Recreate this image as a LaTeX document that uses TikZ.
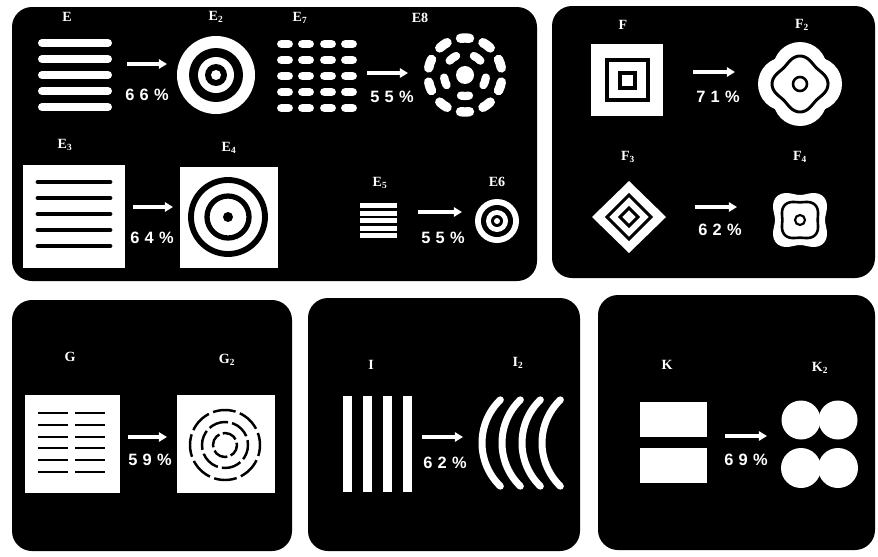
\documentclass[tikz,border=0pt]{standalone}
\usepackage{fontspec}
\setmainfont{Liberation Serif}
\newfontfamily\pctfont{Liberation Sans}
\usetikzlibrary{arrows.meta}

\begin{document}
\begin{tikzpicture}[
    x=0.03cm, y=-0.03cm,
    panel/.style={fill=black, rounded corners=0.6cm},
    lbl/.style={text=white, font=\bfseries\fontsize{12}{12}\selectfont, inner sep=0pt},
    pct/.style={text=white, font=\pctfont\bfseries\fontsize{14}{14}\selectfont, inner sep=0pt},
    warr/.style={-{Triangle[length=7pt, width=8pt]}, white, line width=3.2pt},
    wbar/.style={white, line width=6.8pt, line cap=round},
    kbar/.style={black, line width=4.2pt, line cap=round},
    kline/.style={draw=black, line width=2.5pt},
    dring/.style={draw=black, line width=2.1pt}
]
\useasboundingbox (0,0) rectangle (878,556);

% panels
\fill[panel] (12,7) rectangle (537,281);
\fill[panel] (552,6) rectangle (875,278);
\fill[panel] (12,300) rectangle (292,551);
\fill[panel] (308,298) rectangle (580,551);
\fill[panel] (598,295) rectangle (875,550);

% ---- E panel
\node[lbl] (lE) at (67,17) {E};
\foreach \y in {43,59,75,91,107}
  \draw[wbar] (42,\y) -- (108,\y);
\coordinate (aE) at (127,64); \coordinate (bE) at (167,64);
\draw[warr] (aE) -- (bE);
\node[pct] (pE) at (147,95) {6\hspace{4.5pt}6\hspace{4.5pt}\%};
\node[lbl] (lE2) at (216,17) {E\textsubscript{2}};
\fill[white] (216,75) circle[radius=39];
\fill[black] (216,75) circle[radius=27];
\fill[white] (216,75) circle[radius=18];
\fill[black] (216,75) circle[radius=11];
\fill[white] (216,75) circle[radius=5];

\node[lbl] (lE7) at (300,18) {E\textsubscript{7}};
\foreach \x in {285,306,328,349}
  \foreach \y in {44,60,76,92,108}
    \draw[white, line width=7.6pt, line cap=round] (\x-3.5,\y) -- (\x+3.5,\y);
\coordinate (aE7) at (367,73); \coordinate (bE7) at (408,73);
\draw[warr] (aE7) -- (bE7);
\node[pct] (pE7) at (392,97) {5\hspace{4.5pt}5\hspace{4.5pt}\%};
\node[lbl] (lE8) at (420,18) {E8};
\fill[white] (465,75) circle[radius=9];
\foreach \a in {18,90,162,234,306}
  \draw[white, line width=7pt, line cap=round] (465,75) ++(\a-11:21) arc[start angle=\a-11, end angle=\a+11, radius=21];
\foreach \a in {0,36,...,324}
  \draw[white, line width=8pt, line cap=round] (465,75) ++(\a+11:37) arc[start angle=\a+11, end angle=\a+25, radius=37];

\node[lbl] (lE3) at (65,145) {E\textsubscript{3}};
\fill[white] (23,165) rectangle (125,268);
\foreach \y in {182,198,214,230,246}
  \draw[kbar] (38,\y) -- (110,\y);
\coordinate (aE3) at (133,207); \coordinate (bE3) at (173,207);
\draw[warr] (aE3) -- (bE3);
\node[pct] (pE3) at (152,238) {6\hspace{4.5pt}4\hspace{4.5pt}\%};
\node[lbl] (lE4) at (229,148) {E\textsubscript{4}};
\fill[white] (180,167) rectangle (278,268);
\draw[black, line width=5pt] (228,217) circle[radius=37];
\draw[black, line width=4.5pt] (228,217) circle[radius=21];
\fill[black] (228,217) circle[radius=5];

\node[lbl] (lE5) at (380,183) {E\textsubscript{5}};
\foreach \y in {205.5,213.1,220.7,228.3,235.9}
  \draw[white, line width=4.4pt] (360,\y) -- (397,\y);
\coordinate (aE5) at (418,212); \coordinate (bE5) at (462,212);
\draw[warr] (aE5) -- (bE5);
\node[pct] (pE5) at (443,238) {5\hspace{4.5pt}5\hspace{4.5pt}\%};
\node[lbl] (lE6) at (497,182) {E6};
\fill[white] (497,221) circle[radius=22];
\fill[black] (497,221) circle[radius=16];
\fill[white] (497,221) circle[radius=11];
\fill[black] (497,221) circle[radius=6];
\fill[white] (497,221) circle[radius=3];

% ---- F panel
\node[lbl] (lF) at (623,25) {F};
\fill[white] (591,44) rectangle (663,116);
\draw[kline, line width=2.8pt] (607,60) rectangle (648,100);
\draw[kline, line width=2.8pt] (620,73) rectangle (635,88);
\coordinate (aF) at (693,72); \coordinate (bF) at (735,72);
\draw[warr] (aF) -- (bF);
\node[pct] (pF) at (718,97) {7\hspace{4.5pt}1\hspace{4.5pt}\%};
\node[lbl] (lF2) at (802,25) {F\textsubscript{2}};
\foreach \a in {0,90,180,270}
  \fill[white] (800,84) ++(\a:15) circle[radius=27];
\fill[white] (800,84) circle[radius=30];
\draw[kline] plot[domain=0:360, samples=120, smooth cycle]
  ({800+(25.5+2.5*cos(4*\x))*cos(\x)}, {84+(25.5+2.5*cos(4*\x))*sin(\x)});
\draw[kline, line width=2.2pt] (800,84) circle[radius=7];

\node[lbl] (lF3) at (628,157) {F\textsubscript{3}};
\fill[white] (629,181) -- (666,217) -- (629,253) -- (592,217) -- cycle;
\draw[kline] (629,195) -- (651,217) -- (629,239) -- (607,217) -- cycle;
\draw[kline] (629,208) -- (638,217) -- (629,226) -- (620,217) -- cycle;
\coordinate (aF3) at (695,207); \coordinate (bF3) at (737,207);
\draw[warr] (aF3) -- (bF3);
\node[pct] (pF3) at (720,230) {6\hspace{4.5pt}2\hspace{4.5pt}\%};
\node[lbl] (lF4) at (800,157) {F\textsubscript{4}};
\fill[white] plot[domain=0:360, samples=120, smooth cycle]
  ({800+(29-4*cos(4*\x))*cos(\x)}, {220+(29-4*cos(4*\x))*sin(\x)});
\draw[kline, line width=2.2pt] plot[domain=0:360, samples=120, smooth cycle]
  ({800+(19.5-1.8*cos(4*\x))*cos(\x)}, {220+(19.5-1.8*cos(4*\x))*sin(\x)});
\draw[kline, line width=1.8pt] (800,220) circle[radius=5];

% ---- G panel
\node[lbl] (lG) at (70,357) {G};
\fill[white] (25,395) rectangle (120,493);
\foreach \y in {413,425,437,448,460,472} {
  \draw[black, line width=2.2pt] (38,\y) -- (68,\y);
  \draw[black, line width=2.2pt] (75,\y) -- (105,\y);
}
\coordinate (aG) at (128,437); \coordinate (bG) at (167,437);
\draw[warr] (aG) -- (bG);
\node[pct] (pG) at (150,460) {5\hspace{4.5pt}9\hspace{4.5pt}\%};
\node[lbl] (lG2) at (227,360) {G\textsubscript{2}};
\fill[white] (177,395) rectangle (275,493);
\draw[dring, dash pattern=on 19.5pt off 3.9pt, dash phase=10pt] (225,445) circle[radius=35];
\draw[dring, dash pattern=on 17pt off 3.5pt, dash phase=4pt] (225,445) circle[radius=23];
\draw[dring, dash pattern=on 13pt off 3pt, dash phase=2pt] (225,445) circle[radius=12];

% ---- I panel
\node[lbl] (lI) at (371,365) {I};
\foreach \x in {347,367,387,407}
  \fill[white] (\x-4.5,396) rectangle (\x+4.5,492);
\coordinate (aI) at (422,437); \coordinate (bI) at (463,437);
\draw[warr] (aI) -- (bI);
\node[pct] (pI) at (445,463) {6\hspace{4.5pt}2\hspace{4.5pt}\%};
\node[lbl] (lI2) at (518,363) {I\textsubscript{2}};
\foreach \k in {0,1,2,3}
  \draw[white, line width=6pt, line cap=round] (542+20*\k,443) ++(134:60) arc[start angle=134, end angle=226, radius=60];

% ---- K panel
\node[lbl] (lK) at (667,365) {K};
\fill[white] (640,402) rectangle (707,437);
\fill[white] (640,448) rectangle (707,483);
\coordinate (aK) at (725,436); \coordinate (bK) at (767,436);
\draw[warr] (aK) -- (bK);
\node[pct] (pK) at (746,460) {6\hspace{4.5pt}9\hspace{4.5pt}\%};
\node[lbl] (lK2) at (820,368) {K\textsubscript{2}};
\foreach \x in {801,838} {
  \fill[white] (\x,420) circle[radius=19.5];
  \fill[white] (\x,468) circle[radius=20];
}
\end{tikzpicture}
\end{document}
